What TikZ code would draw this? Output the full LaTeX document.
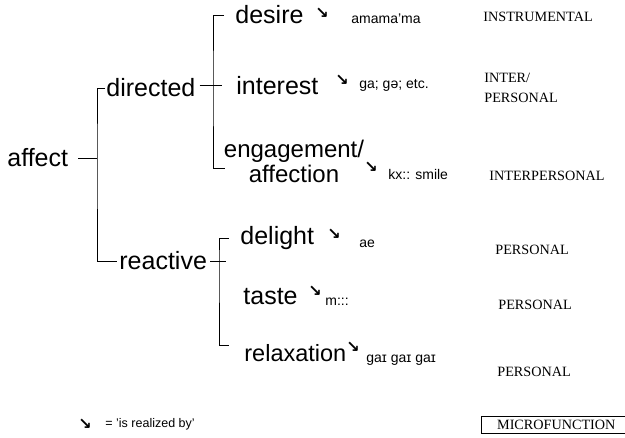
\documentclass[tikz,border=0pt]{standalone}
\usepackage{fontspec}
\setmainfont{Liberation Sans}
\newfontfamily\capsfont{Liberation Serif}
\newfontfamily\symfont{DejaVu Sans}
\begin{document}
\begin{tikzpicture}[x=1pt,y=-1pt,line width=0.8pt,
    term/.style={anchor=west,inner sep=0pt,font=\fontsize{25}{25}\selectfont},
    form/.style={anchor=west,inner sep=0pt,font=\fontsize{14}{16}\selectfont},
    func/.style={anchor=west,inner sep=0pt,align=left,font=\capsfont\fontsize{14.2}{20}\selectfont},
    real/.style={inner sep=0pt,font=\symfont\bfseries\fontsize{16}{16}\selectfont}]
  \useasboundingbox (0,0) rectangle (625,438);
  % system
  \node[term] (affect) at (7,158) {affect};
  \node[term] (directed) at (106,88) {directed};
  \node[term] (reactive) at (119,261) {reactive};
  \node[term] (desire) at (235,15) {desire};
  \node[term] (interest) at (236,86) {interest};
  \node[term,align=center,anchor=center,font=\fontsize{24}{25}\selectfont] (engage) at (294,161) {engagement/\\affection};
  \node[term] (delight) at (240,238) {delight};
  \node[term] (taste) at (243,297) {taste};
  \node[term,font=\fontsize{23.5}{25}\selectfont] (relax) at (244,353) {relaxation};
  % brackets
  \coordinate (j1) at (97,158);
  \coordinate (j2) at (213,85);
  \coordinate (j3) at (219,261);
  \coordinate (etick) at (225,168);
  \coordinate (rtick) at (229,345);
  \draw[shorten <=10pt] (affect.east) -- (j1);
  \draw[shorten <=1pt,shorten >=2pt] (directed.west) -| (j1) |- (reactive.west);
  \draw[shorten <=4pt] (directed.east |- j2) -- (j2);
  \draw[shorten <=11pt] (desire.west) -| (j2) |- (etick);
  \draw[shorten >=14pt] (j2) -- (j2 -| interest.west);
  \draw[shorten <=3pt] (reactive.east |- j3) -- (j3);
  \draw[shorten <=11pt] (delight.west) -| (j3) |- (rtick);
  \draw[shorten >=17pt] (j3) -- (j3 -| taste.west);
  % realizations
  \node[real] (desire-arr) at (322,13) {↘};
  \node[form] (desire-form) at (351,19) {amama'ma};
  \node[real] (interest-arr) at (342,80) {↘};
  \node[form] (interest-form) at (359,85) {ga; gə; etc.};
  \node[real] (engage-arr) at (371,167) {↘};
  \node[form] (engage-form) at (388,174) {kx:: smile};
  \node[real] (delight-arr) at (334,234) {↘};
  \node[form] (delight-form) at (359,244) {ae};
  \node[real] (taste-arr) at (315,291) {↘};
  \node[form] (taste-form) at (325,302) {m:::};
  \node[real] (relax-arr) at (353,347) {↘};
  \node[form] (relax-form) at (366,360) {gaɪ gaɪ gaɪ};
  % microfunctions
  \node[func] (desire-fn) at (483,17) {INSTRUMENTAL};
  \node[func] (interest-fn) at (484,88) {INTER/\\PERSONAL};
  \node[func] (engage-fn) at (489,176) {INTERPERSONAL};
  \node[func] (delight-fn) at (495,250) {PERSONAL};
  \node[func] (taste-fn) at (498,305) {PERSONAL};
  \node[func] (relax-fn) at (497,372) {PERSONAL};
  % key
  \node[real] (key-arr) at (85,424) {↘};
  \node[form,font=\fontsize{12.5}{14}\selectfont] (key) at (105,424) {= 'is realized by'};
  \node[func,draw,line width=0.6pt,inner xsep=11pt,inner ysep=4pt,minimum width=150pt] (micro) at (481,425) {MICROFUNCTION};
\end{tikzpicture}
\end{document}
